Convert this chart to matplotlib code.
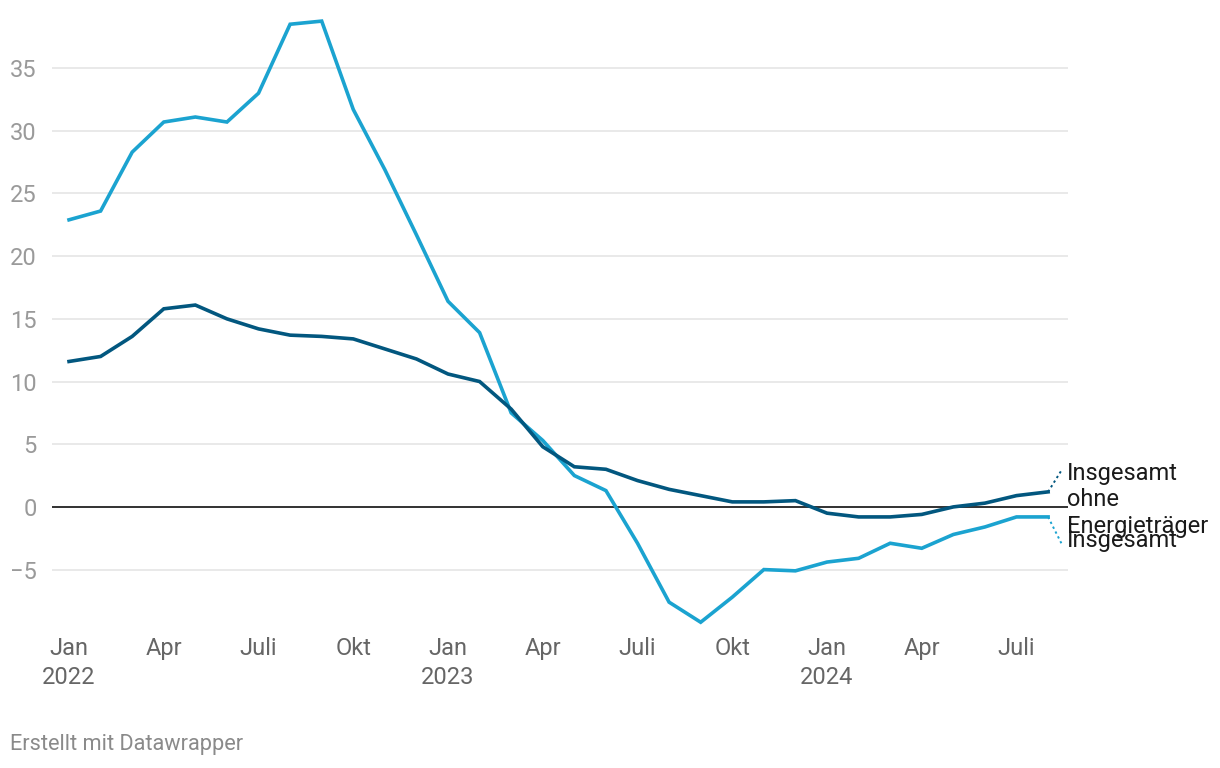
import numpy as np
import matplotlib.pyplot as plt

plt.rcParams['font.family'] = ['Roboto', 'DejaVu Sans']

# Monate Jan 2022 .. Aug 2024
months = ["Jan\n2022", "Feb", "Mär", "Apr", "Mai", "Jun", "Juli", "Aug", "Sep", "Okt", "Nov", "Dez",
          "Jan\n2023", "Feb", "Mär", "Apr", "Mai", "Jun", "Juli", "Aug", "Sep", "Okt", "Nov", "Dez",
          "Jan\n2024", "Feb", "Mär", "Apr", "Mai", "Jun", "Juli", "Aug"]

insgesamt = [22.9, 23.6, 28.3, 30.7, 31.1, 30.7, 33.0, 38.5, 38.75, 31.7, 26.9, 21.7,
             16.4, 13.9, 7.5, 5.3, 2.5, 1.3, -2.9, -7.6, -9.2, -7.2, -5.0, -5.1,
             -4.4, -4.1, -2.9, -3.3, -2.2, -1.6, -0.8, -0.8]

ohne_energie = [11.6, 12.0, 13.6, 15.8, 16.1, 15.0, 14.2, 13.7, 13.6, 13.4, 12.6, 11.8,
                10.6, 10.0, 7.8, 4.8, 3.2, 3.0, 2.1, 1.4, 0.9, 0.4, 0.4, 0.5,
                -0.5, -0.8, -0.8, -0.6, 0.0, 0.3, 0.9, 1.2]

tick_pos = [0, 3, 6, 9, 12, 15, 18, 21, 24, 27, 30]
tick_lab = ["Jan\n2022", "Apr", "Juli", "Okt", "Jan\n2023", "Apr", "Juli", "Okt", "Jan\n2024", "Apr", "Juli"]
y_ticks = [-5, 0, 5, 10, 15, 20, 25, 30, 35]

c_light = '#1ba3d0'
c_dark = '#02577f'

fig = plt.figure(figsize=(12.2, 7.68), dpi=100)
ax = fig.add_axes([0.0426, 0.1849, 0.8328, 0.7917])

x = np.arange(len(insgesamt))
ax.plot(x, insgesamt, color=c_light, lw=2.6, solid_joinstyle='miter', zorder=3)
ax.plot(x, ohne_energie, color=c_dark, lw=2.6, solid_joinstyle='miter', zorder=4)
ax.axhline(0, color='black', lw=1.1, zorder=2)

ax.set_xlim(-0.54, 31.63)
ax.set_ylim(-9.5, 39)
ax.set_yticks(y_ticks)
ax.set_yticklabels(["\u22125" if v < 0 else str(v) for v in y_ticks])
ax.set_xticks(tick_pos)
ax.set_xticklabels(tick_lab)
ax.grid(axis='y', color='#e3e3e3', lw=1.1, zorder=1)
ax.grid(axis='x', visible=False)
for s in ax.spines.values():
    s.set_visible(False)
ax.tick_params(axis='y', length=0, pad=11, labelsize=17, labelcolor='#9a9a9a')
ax.tick_params(axis='x', length=0, pad=8, labelsize=17, labelcolor='#666666')
for t in ax.get_xticklabels():
    t.set_linespacing(1.3)

# Beschriftung am Linienende mit gepunkteter Verbindung
last = len(x) - 1
ax.plot([last, last + 0.42], [ohne_energie[-1], 2.9], color=c_dark, lw=1.4, ls=(0, (1.2, 1.6)), clip_on=False)
ax.plot([last, last + 0.42], [insgesamt[-1], -2.9], color=c_light, lw=1.4, ls=(0, (1.2, 1.6)), clip_on=False)
ax.text(last + 0.6, 3.6, "Insgesamt\nohne\nEnergieträger", fontsize=17, color='#1a1a1a',
        va='top', ha='left', linespacing=1.2, clip_on=False)
ax.text(last + 0.6, -2.65, "Insgesamt", fontsize=17, color='#1a1a1a',
        va='center', ha='left', clip_on=False)

fig.text(0.008, 0.030, "Erstellt mit Datawrapper", fontsize=15.7, color='#8a8a8a', ha='left', va='center')

fig.savefig("out.png", dpi=100)
